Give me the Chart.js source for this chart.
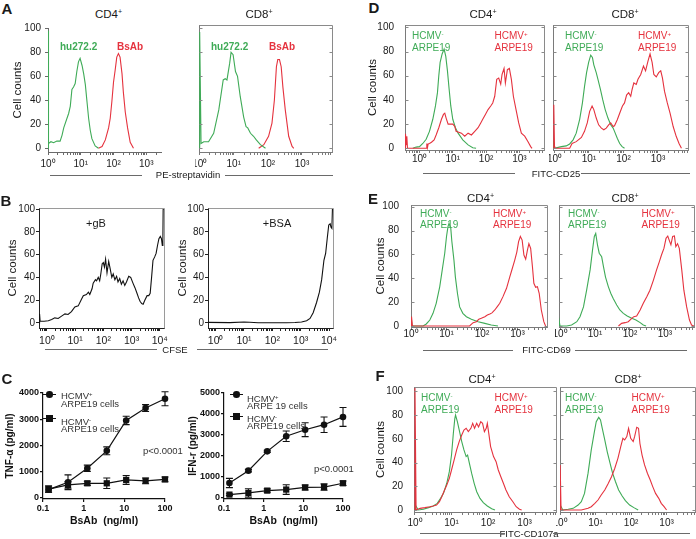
<!DOCTYPE html>
<html><head><meta charset="utf-8">
<script src="https://cdn.jsdelivr.net/npm/chart.js@4.4.1/dist/chart.umd.min.js"></script>
<style>
html,body{margin:0;padding:0;background:#fff}
body{position:relative;width:696px;height:539px;overflow:hidden;font-family:"Liberation Sans",Arial,Helvetica,sans-serif;color:#1a1a1a}
canvas{position:absolute}
.tx{position:absolute;white-space:nowrap;line-height:1}
sup{font-size:0.62em;line-height:0;vertical-align:0.55em}
.ln{position:absolute;height:0;border-top:1.3px solid #6a6a6a}
.mk{position:absolute;background:#111}
</style></head><body>
<script>
// ---------------- DATA (x = log10 fluorescence, y = cell counts) ----------------
const A_CD4_hu = [[0,0],[0,98],[0.03,4],[0.09,5.5],[0.17,4.7],[0.27,6],[0.37,6],[0.43,11],[0.48,17],[0.58,25],[0.63,29],[0.68,35],[0.73,49],[0.78,51],[0.83,54],[0.88,64],[0.93,72],[0.98,75],[1.04,69],[1.09,62],[1.14,53],[1.19,39],[1.24,25],[1.29,15],[1.34,8],[1.44,2],[1.54,0]];
const A_CD4_bs = [[1.54,0],[1.65,1.5],[1.75,7],[1.85,17],[1.9,25],[1.95,39],[2.0,55],[2.05,65],[2.1,76],[2.15,79],[2.2,76],[2.26,62],[2.3,47],[2.36,30],[2.43,17],[2.51,5],[2.61,0]];
const A_CD8_hu = [[0,0],[0,97],[0.04,4],[0.12,5.5],[0.26,5.5],[0.41,12.5],[0.56,32],[0.69,57],[0.75,58],[0.8,57],[0.88,71],[0.92,80],[0.98,78],[1.05,64],[1.11,60],[1.19,43],[1.29,26],[1.36,18],[1.41,17],[1.49,12.5],[1.58,10],[1.66,7],[1.78,3],[1.93,0]];
const A_CD8_bs = [[1.73,0],[1.88,3],[2.02,10],[2.12,21],[2.19,40],[2.25,68],[2.29,74],[2.34,74],[2.39,68],[2.44,51],[2.51,32],[2.61,10],[2.71,1.5],[2.76,0]];

const B_gB = [[-0.27,0],[-0.26,8],[-0.24,1.5],[-0.1,1.5],[0.05,2],[0.17,3],[0.28,4.5],[0.4,4],[0.52,6],[0.64,8],[0.75,7.5],[0.87,10],[0.99,14],[1.11,15],[1.23,21],[1.29,24],[1.4,25],[1.47,27],[1.52,25],[1.6,30],[1.64,35],[1.72,38],[1.76,37],[1.82,40],[1.87,37],[1.91,43],[1.96,52],[2.0,53],[2.04,49],[2.08,56],[2.13,44],[2.19,54],[2.24,48],[2.3,40],[2.35,43],[2.41,38],[2.47,41],[2.52,36],[2.58,39],[2.64,34],[2.7,37],[2.76,33],[2.82,36],[2.9,41],[2.97,40],[3.05,35],[3.12,31],[3.18,27],[3.25,22],[3.3,19],[3.36,17],[3.41,16.5],[3.47,20],[3.55,24],[3.61,24],[3.66,26],[3.71,40],[3.76,55],[3.82,58],[3.87,61],[3.92,68],[3.97,74],[4.02,76],[4.06,74],[4.09,68],[4.11,72],[4.12,100],[4.15,100]];
const B_BSA = [[-0.27,0.5],[0.5,0.3],[1.0,0.8],[1.2,0.6],[1.5,0.2],[2.0,0.2],[2.5,0.2],[2.8,0.4],[3.03,0.8],[3.21,2],[3.33,4],[3.44,9],[3.56,18],[3.66,27],[3.74,38],[3.82,55],[3.88,61],[3.94,75],[3.99,86],[4.04,87],[4.07,84],[4.1,83],[4.12,100],[4.14,100]];

const doses = [0.137, 0.412, 1.23, 3.7, 11.1, 33.3, 100];
const tnfPos = [310, 590, 1125, 1790, 2950, 3425, 3780];
const tnfPosErr = [100, 280, 120, 150, 160, 130, 270];
const tnfNeg = [330, 490, 550, 550, 680, 645, 700];
const tnfNegErr = [120, 130, 80, 200, 170, 110, 90];
const ifnPos = [714, 1300, 2220, 2940, 3250, 3490, 3860];
const ifnPosErr = [220, 60, 50, 250, 330, 370, 450];
const ifnNeg = [160, 240, 350, 400, 500, 520, 700];
const ifnNegErr = [40, 200, 80, 230, 120, 150, 110];

const D_CD4_neg = [[-0.2,0],[-0.1,1],[0,1.4],[0.1,4],[0.2,7.5],[0.3,14],[0.4,24],[0.48,35],[0.54,46],[0.58,60],[0.62,71],[0.68,78],[0.74,82],[0.79,76],[0.84,64],[0.89,49],[0.94,35],[1.0,24],[1.08,17],[1.16,12.5],[1.3,7],[1.46,2.8],[1.6,0.5],[1.7,0]];
const D_CD4_pos = [[-0.43,0],[-0.42,12],[-0.4,3],[-0.38,10],[-0.36,0],[0.2,0],[0.22,4],[0.24,0.5],[0.26,3.6],[0.3,4],[0.36,5],[0.44,7],[0.5,11],[0.58,17],[0.66,24],[0.72,28],[0.76,29],[0.8,25],[0.86,20],[1.0,20],[1.06,18],[1.1,14],[1.26,12.5],[1.36,10],[1.46,12.5],[1.56,11],[1.66,14],[1.76,17],[1.84,21],[1.9,24],[1.98,28],[2.06,32],[2.14,35],[2.2,37.5],[2.26,43],[2.32,57],[2.38,58],[2.44,53],[2.48,61],[2.54,66],[2.58,54],[2.64,65],[2.7,66],[2.76,57],[2.82,43],[2.9,32],[2.98,21],[3.06,12.5],[3.16,10],[3.26,5.5],[3.34,1.4],[3.38,0]];
const D_CD8_neg = [[-0.04,0],[-0.03,6],[-0.01,0],[0.2,1.4],[0.34,2],[0.44,3.6],[0.54,7],[0.63,12.5],[0.73,24],[0.81,37.5],[0.87,51],[0.93,62.5],[0.99,71],[1.05,77],[1.1,75],[1.14,69],[1.21,62.5],[1.26,57],[1.33,49],[1.4,40],[1.47,32],[1.55,25],[1.63,19.4],[1.7,16.7],[1.74,14],[1.82,8.3],[1.89,4],[1.96,1.4],[2.03,0]];
const D_CD8_pos = [[-0.04,0],[-0.02,36],[0.0,2],[0.02,0],[0.44,0],[0.51,4],[0.63,5.5],[0.78,9],[0.87,14],[0.95,21],[1.02,30.5],[1.09,35],[1.14,32],[1.21,25],[1.28,19.4],[1.36,16.7],[1.43,15.3],[1.5,16.7],[1.57,19.4],[1.63,21],[1.7,18],[1.74,18.6],[1.82,23.6],[1.89,29],[1.97,35],[2.03,37.5],[2.09,44],[2.15,46],[2.21,43],[2.25,48.6],[2.3,54],[2.37,52.8],[2.42,57],[2.5,61],[2.58,68],[2.64,64],[2.71,72],[2.77,78],[2.83,71],[2.88,61],[2.95,59],[3.02,62.5],[3.08,64],[3.13,58],[3.19,47],[3.27,37.5],[3.35,29],[3.44,18],[3.53,9.7],[3.61,4],[3.68,0]];

const E_CD4_neg = [[0,0],[0.005,8],[0.03,0],[0.34,0],[0.43,1.7],[0.53,5],[0.62,10.6],[0.71,19],[0.81,33],[0.88,47],[0.95,61],[1.0,75],[1.04,83],[1.07,86],[1.12,82],[1.15,71],[1.21,55],[1.25,41],[1.31,27],[1.37,16],[1.46,10.6],[1.56,7.8],[1.7,5.6],[1.89,3.6],[2.08,2.2],[2.26,0.8],[2.45,0]];
const E_CD4_pos = [[0.01,0],[0.015,8],[0.04,0],[1.65,0],[1.75,2.8],[1.84,3.6],[1.91,5.6],[1.98,6.4],[2.08,7.8],[2.15,9.2],[2.22,10],[2.28,11],[2.36,13.4],[2.43,16.2],[2.5,19],[2.59,24.6],[2.69,31.6],[2.78,41],[2.85,48],[2.92,55],[2.98,62],[3.03,70.7],[3.08,75],[3.13,72],[3.18,59.5],[3.23,56],[3.28,63.7],[3.32,69],[3.37,65],[3.42,49.7],[3.46,35.8],[3.51,32.4],[3.56,33],[3.61,27.4],[3.67,13.4],[3.74,3.6],[3.79,0]];
const E_CD8_neg = [[-0.04,0],[-0.03,5],[0,0],[0.19,0],[0.33,0.8],[0.48,3.6],[0.57,7.8],[0.67,16],[0.76,30],[0.86,47],[0.93,64],[0.98,75],[1.02,77.6],[1.07,68],[1.12,61],[1.19,58],[1.24,50],[1.3,41],[1.38,33],[1.45,27.4],[1.52,23],[1.62,17.6],[1.71,13.4],[1.81,10.6],[1.92,8.4],[2.05,6.4],[2.17,5],[2.29,2.8],[2.38,0.8],[2.46,0]];
const E_CD8_pos = [[1.67,0],[1.76,2.2],[1.86,2.8],[1.95,3.6],[2.05,6.4],[2.11,7.8],[2.19,8.4],[2.29,13.4],[2.38,19],[2.48,24.6],[2.57,30],[2.67,38.5],[2.76,47],[2.84,54],[2.9,59.5],[2.97,65],[3.03,73.5],[3.08,75.4],[3.12,72],[3.17,68],[3.22,75],[3.27,75.4],[3.31,66.5],[3.36,69],[3.41,65],[3.48,47],[3.54,30],[3.62,16],[3.7,5],[3.76,0.8],[3.83,0]];

const F_CD4_pos = [[0,0],[0,103],[0.03,0],[0.14,1.4],[0.27,2],[0.41,2.8],[0.5,3.4],[0.59,4.2],[0.67,7],[0.73,11],[0.79,15.4],[0.87,21],[0.94,26.7],[1.0,33.7],[1.07,42],[1.14,50.6],[1.21,57.6],[1.28,63.2],[1.34,67.4],[1.4,68.8],[1.46,66],[1.53,68.8],[1.58,73],[1.63,68.8],[1.69,73],[1.74,70],[1.8,74.4],[1.85,73],[1.9,66],[1.95,68.8],[1.98,73],[2.02,64.6],[2.07,53.4],[2.15,45],[2.22,40.7],[2.28,33.7],[2.35,28],[2.42,22.5],[2.49,16.9],[2.58,11.2],[2.68,7],[2.77,2.8],[2.86,0.6],[2.92,0]];
const F_CD4_neg = [[0,0],[0.01,4.2],[0.09,0],[0.23,0.6],[0.37,2],[0.5,3.4],[0.61,5.6],[0.7,9.8],[0.78,14],[0.87,22.5],[0.94,32.3],[1.0,46.3],[1.05,64.6],[1.09,77],[1.11,80],[1.16,74.4],[1.21,67.4],[1.28,57.6],[1.34,50.6],[1.4,45],[1.44,46.3],[1.49,39.3],[1.55,31],[1.62,22.5],[1.69,15.4],[1.78,9.8],[1.87,6.2],[1.98,3.4],[2.1,1.1],[2.19,0]];
const F_CD8_pos = [[0,0],[0.005,38],[0.03,0],[0.6,0],[0.79,1.4],[0.88,2.8],[0.98,5.6],[1.07,8.4],[1.16,12.6],[1.26,16.9],[1.35,22],[1.45,28],[1.54,35],[1.63,43.5],[1.71,53.4],[1.77,60.4],[1.82,59],[1.88,61.8],[1.93,68.8],[1.99,60.4],[2.06,57.6],[2.1,61.8],[2.16,69.7],[2.21,68.8],[2.25,56],[2.31,46.3],[2.38,38],[2.46,31],[2.54,25.3],[2.61,19.7],[2.69,14],[2.78,9.8],[2.85,5.6],[2.93,2.8],[3.0,0]];
const F_CD8_neg = [[0,0],[0.01,4],[0.08,0],[0.23,0.6],[0.37,1.4],[0.51,4.2],[0.6,7],[0.69,14],[0.79,31],[0.88,50.6],[0.96,64.6],[1.02,74.4],[1.09,78],[1.14,75.8],[1.19,68.8],[1.26,59],[1.33,49],[1.41,39.3],[1.48,31],[1.56,24],[1.65,16.9],[1.75,11.8],[1.84,7.9],[1.96,4.2],[2.08,2],[2.2,0]];

const countTicks = [0, 20, 40, 60, 80, 100];
const countTicksB = [0, 10, 20, 30, 40, 50, 60, 70, 80, 90, 100];
const SUP = ['\u2070', '\u00b9', '\u00b2', '\u00b3', '\u2074'];

// ---------------- helpers ----------------
const FONT = '"Liberation Sans", Arial, Helvetica, sans-serif';
Chart.defaults.font.family = FONT;
Chart.defaults.color = '#1a1a1a';
const GREEN = '#3fab57', RED = '#e5323e';

function P(arr) { return arr.map(p => ({x: p[0], y: p[1]})); }
function logTicks(min, max) {
  const t = [];
  for (let n = Math.floor(min); n <= Math.ceil(max); n++) {
    for (let k = 1; k <= 9; k++) {
      const v = k === 1 ? n : n + Math.log10(k);
      if (v >= min - 1e-9 && v <= max + 1e-9) t.push(v);
    }
  }
  return t;
}
function makeCanvas(l, t, w, h) {
  const c = document.createElement('canvas');
  c.width = w; c.height = h;
  c.style.left = l + 'px'; c.style.top = t + 'px';
  c.style.width = w + 'px'; c.style.height = h + 'px';
  document.body.appendChild(c);
  return c;
}
function T(html, x, y, css, al) {
  const d = document.createElement('div');
  d.className = 'tx'; d.innerHTML = html;
  d.style.cssText += css || '';
  d.style.left = x + 'px'; d.style.top = y + 'px';
  d.style.transform = al === 'l' ? 'translate(0,-50%)' : 'translate(-50%,-50%)';
  document.body.appendChild(d);
}
function L(x1, x2, y) {
  const d = document.createElement('div');
  d.className = 'ln';
  d.style.left = x1 + 'px'; d.style.top = y + 'px'; d.style.width = (x2 - x1) + 'px';
  document.body.appendChild(d);
}

const framePlugin = {
  id: 'frame',
  afterDraw(chart, args, o) {
    if (!o || !o.mode) return;
    const {ctx, chartArea: a, scales} = chart;
    const L0 = Math.round(a.left) + 0.5, R0 = Math.round(a.right) + 0.5;
    const T0 = Math.round(a.top) + 0.5, B0 = Math.round(a.bottom) + 0.5;
    ctx.save();
    ctx.strokeStyle = o.color || '#8a8a8a';
    ctx.lineWidth = 1;
    ctx.beginPath();
    ctx.moveTo(L0, T0); ctx.lineTo(R0, T0); ctx.lineTo(R0, B0);
    ctx.stroke();
    if (o.inTicks) {
      ctx.beginPath();
      o.inTicks.forEach(v => {
        const y = Math.round(scales.y.getPixelForValue(v)) + 0.5;
        ctx.moveTo(L0, y); ctx.lineTo(L0 + 3, y);
        ctx.moveTo(R0, y); ctx.lineTo(R0 - 3, y);
      });
      ctx.stroke();
    }
    ctx.restore();
  }
};
const errPlugin = {
  id: 'errbars',
  beforeDatasetsDraw(chart) {
    const {ctx, scales: {x, y}} = chart;
    ctx.save();
    ctx.strokeStyle = '#111'; ctx.lineWidth = 1.1;
    chart.data.datasets.forEach(ds => {
      if (!ds.err) return;
      ds.data.forEach((p, j) => {
        const px = x.getPixelForValue(p.x);
        const y1 = y.getPixelForValue(p.y - ds.err[j]);
        const y2 = y.getPixelForValue(p.y + ds.err[j]);
        ctx.beginPath();
        ctx.moveTo(px, y1); ctx.lineTo(px, y2);
        ctx.moveTo(px - 3.5, y1); ctx.lineTo(px + 3.5, y1);
        ctx.moveTo(px - 3.5, y2); ctx.lineTo(px + 3.5, y2);
        ctx.stroke();
      });
    });
    ctx.restore();
  }
};
Chart.register(framePlugin, errPlugin);

function hist(o) {
  const lh = 11 * 1.2;
  const cl = o.titleX != null ? Math.round(o.titleX - lh / 2) : o.l - 4;
  const W = o.l - cl, ct = o.t - 6, HX = 24;
  const cw = o.r + 6 - cl, chh = o.b + HX - ct;
  const cv = makeCanvas(cl, ct, cw, chh);
  const xt = logTicks(o.xmin, o.xmax);
  const axisCol = o.axisCol || '#7a7a7a';
  new Chart(cv, {
    type: 'line',
    data: {datasets: o.series.map(s => ({data: P(s[0]), borderColor: s[1], borderWidth: 1.1, pointRadius: 0, tension: 0, fill: false}))},
    options: {
      responsive: false, animation: false, devicePixelRatio: 1,
      layout: {padding: {left: 0, top: 6, right: 6, bottom: 0}},
      plugins: {legend: {display: false}, tooltip: {enabled: false},
        frame: {mode: o.mode, color: o.frameCol || '#8a8a8a', inTicks: o.inTicks}},
      scales: {
        x: {type: 'linear', min: o.xmin, max: o.xmax,
          afterBuildTicks: s => { s.ticks = xt.map(v => ({value: v})); },
          afterFit: s => { s.height = HX; s.paddingLeft = 0; s.paddingRight = 0; },
          ticks: {autoSkip: false, maxRotation: 0, minRotation: 0, padding: o.xPad, font: {size: o.xFont || 10}, color: '#1a1a1a',
            callback: v => Number.isInteger(v) ? '10' + SUP[v] : ''},
          grid: {drawOnChartArea: false, drawTicks: true, tickLength: 3, color: o.xAxisCol || axisCol},
          border: {display: true, color: o.xAxisCol || axisCol, width: 1}
        },
        y: {type: 'linear', min: o.ymin, max: o.ymax,
          afterBuildTicks: s => { s.ticks = (o.yt || countTicks).map(v => ({value: v})); },
          afterFit: s => { s.width = W; s.paddingTop = 0; s.paddingBottom = 0; },
          ticks: {display: !!o.yLab, padding: o.yPad || 0, font: {size: 10}, color: '#1a1a1a',
            callback: v => (v % 20 === 0 ? String(v) : '')},
          grid: {display: !!o.yTickOut, drawOnChartArea: false, drawTicks: true, tickLength: 3, color: o.yAxisCol || axisCol},
          border: {display: true, color: o.yAxisCol || axisCol, width: 1},
          title: {display: o.titleX != null, text: 'Cell counts', font: {size: 11.5}, padding: 0, color: '#1a1a1a'}
        }
      }
    }
  });
}

function dose(o) {
  const lh = 10 * 1.2;
  const cl = Math.round(o.titleX - lh / 2), W = o.l - cl, ct = o.t - 8, HX = 28;
  const cw = o.r + 8 - cl, chh = o.b + HX - ct;
  const cv = makeCanvas(cl, ct, cw, chh);
  const common = {borderColor: '#111', backgroundColor: '#111', borderWidth: 1.2, tension: 0, clip: false, pointBorderWidth: 0};
  new Chart(cv, {
    type: 'line',
    data: {datasets: [
      Object.assign({label: 'HCMV+ ARPE19 cells', data: doses.map((d, i) => ({x: d, y: o.pos[i]})), err: o.posErr, pointStyle: 'circle', pointRadius: 3.3}, common),
      Object.assign({label: 'HCMV- ARPE19 cells', data: doses.map((d, i) => ({x: d, y: o.neg[i]})), err: o.negErr, pointStyle: 'rect', pointRadius: 4.4}, common)
    ]},
    options: {
      responsive: false, animation: false, devicePixelRatio: 1,
      layout: {padding: {left: 0, top: 8, right: 8, bottom: 0}},
      plugins: {legend: {display: false}, tooltip: {enabled: false}},
      scales: {
        x: {type: 'logarithmic', min: 0.1, max: 100,
          afterBuildTicks: s => { s.ticks = [0.1, 1, 10, 100].map(v => ({value: v})); },
          afterFit: s => { s.height = HX; s.paddingLeft = 0; s.paddingRight = 0; },
          ticks: {autoSkip: false, maxRotation: 0, padding: 1, font: {size: 9, weight: 'bold'}, color: '#111', callback: v => String(v)},
          grid: {drawOnChartArea: false, drawTicks: true, tickLength: 3, color: '#111', lineWidth: 1.2},
          border: {display: true, color: '#111', width: 1.2},
          title: {display: true, text: 'BsAb  (ng/ml)', font: {size: 10.5, weight: 'bold'}, padding: 0, color: '#111'}
        },
        y: {type: 'linear', min: -50, max: o.ymax,
          afterBuildTicks: s => { s.ticks = o.yt.map(v => ({value: v})); },
          afterFit: s => { s.width = W; s.paddingTop = 0; s.paddingBottom = 0; },
          ticks: {padding: 1, font: {size: 9, weight: 'bold'}, color: '#111', callback: v => String(v)},
          grid: {drawOnChartArea: false, drawTicks: true, tickLength: 3, color: '#111', lineWidth: 1.2},
          border: {display: true, color: '#111', width: 1.2},
          title: {display: true, text: o.ytitle, font: {size: 10, weight: 'bold'}, padding: 0, color: '#111'}
        }
      }
    }
  });
}

// ---------------- PANEL A ----------------
hist({l: 48, t: 28, r: 161, b: 152, xmin: 0, xmax: 3.45, ymin: -3.1, ymax: 100.25, titleX: 18, yLab: true, yTickOut: true, yPad: 4, xPad: 3,
  axisCol: '#6a6a6a', series: [[A_CD4_hu, GREEN], [A_CD4_bs, RED]]});
hist({l: 199, t: 25, r: 332, b: 152, xmin: -0.02, xmax: 3.88, ymin: -3.1, ymax: 102.8, xPad: 3, mode: 'box', inTicks: countTicks,
  series: [[A_CD8_hu, GREEN], [A_CD8_bs, RED]]});
// ---------------- PANEL B ----------------
hist({l: 39, t: 208, r: 164, b: 328, xmin: -0.28, xmax: 4.15, ymin: -4.4, ymax: 100.9, titleX: 13, yLab: true, yTickOut: true, yPad: 1, xPad: 4, xFont: 10.5,
  yt: countTicksB, axisCol: '#222', mode: 'tr', frameCol: '#9a9a9a', series: [[B_gB, '#111']]});
hist({l: 208, t: 208, r: 333, b: 328, xmin: -0.27, xmax: 4.14, ymin: -4.4, ymax: 100.9, titleX: 183, yLab: true, yTickOut: true, yPad: 1, xPad: 4, xFont: 10.5,
  yt: countTicksB, axisCol: '#222', mode: 'tr', frameCol: '#9a9a9a', series: [[B_BSA, '#111']]});
// ---------------- PANEL C ----------------
dose({l: 43, t: 393, r: 165, b: 499, titleX: 9.5, ymax: 4000, yt: [0, 1000, 2000, 3000, 4000], ytitle: 'TNF-\u03b1 (pg/ml)',
  pos: tnfPos, posErr: tnfPosErr, neg: tnfNeg, negErr: tnfNegErr});
dose({l: 224, t: 393, r: 343, b: 499, titleX: 193, ymax: 5000, yt: [0, 1000, 2000, 3000, 4000, 5000], ytitle: 'IFN-r (pg/ml)',
  pos: ifnPos, posErr: ifnPosErr, neg: ifnNeg, negErr: ifnNegErr});
// ---------------- PANEL D ----------------
hist({l: 405, t: 25, r: 544, b: 150, xmin: -0.435, xmax: 3.74, ymin: -1.4, ymax: 101.9, titleX: 373, yLab: true, yPad: 8, xPad: 0, mode: 'box', inTicks: countTicks,
  series: [[D_CD4_pos, RED], [D_CD4_neg, GREEN]]});
hist({l: 553, t: 25, r: 688, b: 150, xmin: -0.043, xmax: 3.87, ymin: -1.4, ymax: 101.9, xPad: 0, mode: 'box', inTicks: countTicks,
  series: [[D_CD8_pos, RED], [D_CD8_neg, GREEN]]});
// ---------------- PANEL E ----------------
hist({l: 411, t: 205, r: 547, b: 327, xmin: 0, xmax: 3.83, ymin: -0.84, ymax: 101.4, titleX: 381, yLab: true, yPad: 9, xPad: -1.5, mode: 'box', inTicks: countTicks,
  series: [[E_CD4_pos, RED], [E_CD4_neg, GREEN]]});
hist({l: 559, t: 205, r: 694, b: 327, xmin: -0.03, xmax: 3.83, ymin: -0.84, ymax: 101.4, xPad: -1.5, mode: 'box', inTicks: countTicks,
  series: [[E_CD8_pos, RED], [E_CD8_neg, GREEN]]});
// ---------------- PANEL F ----------------
hist({l: 414, t: 387, r: 556, b: 512, xmin: -0.027, xmax: 3.86, ymin: -1.68, ymax: 103.6, titleX: 381, yLab: true, yPad: 8, xPad: 2, mode: 'box', inTicks: countTicks,
  series: [[F_CD4_pos, RED], [F_CD4_neg, GREEN]]});
hist({l: 560, t: 387, r: 695, b: 512, xmin: 0, xmax: 3.8, ymin: -1.68, ymax: 103.6, xPad: 2, mode: 'box', inTicks: countTicks,
  series: [[F_CD8_pos, RED], [F_CD8_neg, GREEN]]});

// ---------------- TEXT ----------------
const LET = 'font-weight:bold;font-size:15px;';
T('A', 7, 8, LET); T('B', 6, 200, LET); T('C', 7, 378, LET);
T('D', 374, 7, LET); T('E', 373, 198, LET); T('F', 380, 375, LET);

const TTL = 'font-size:11.5px;';
T('CD4<sup>+</sup>', 108.5, 15, TTL); T('CD8<sup>+</sup>', 259, 15, TTL);
T('CD4<sup>+</sup>', 483, 15, TTL); T('CD8<sup>+</sup>', 625, 15, TTL);
T('CD4<sup>+</sup>', 480.5, 198.5, TTL); T('CD8<sup>+</sup>', 625, 198.5, TTL);
T('CD4<sup>+</sup>', 482, 379.5, TTL); T('CD8<sup>+</sup>', 628, 379.5, TTL);

const GB = 'font-weight:bold;font-size:10px;color:' + GREEN + ';', RB = 'font-weight:bold;font-size:10px;color:' + RED + ';';
T('hu272.2', 60, 47, GB, 'l'); T('BsAb', 117, 47, RB, 'l');
T('hu272.2', 211, 47, GB, 'l'); T('BsAb', 269, 47, RB, 'l');

const GN = 'font-size:10px;color:' + GREEN + ';', RN = 'font-size:10px;color:' + RED + ';';
function pair(xg, xr, y1, y2) {
  T('HCMV<sup>-</sup>', xg, y1, GN, 'l'); T('ARPE19', xg, y2, GN, 'l');
  T('HCMV<sup>+</sup>', xr, y1, RN, 'l'); T('ARPE19', xr, y2, RN, 'l');
}
pair(412, 494.5, 35.5, 48); pair(565, 638, 35.5, 48);
pair(420, 493, 213.5, 224.5); pair(568, 641.5, 213.5, 224.5);
pair(421, 494.5, 398, 410); pair(565, 631.5, 398, 410);

const AX = 'font-size:9.5px;';
T('PE-streptavidin', 188, 174.5, AX); L(50, 142, 174.5); L(225, 333, 174.5);
T('CFSE', 175, 349.5, AX); L(45, 157, 349); L(197, 328, 349);
T('FITC-CD25', 556, 173.5, AX); L(423, 515, 173); L(581, 690, 173);
T('FITC-CD69', 546.5, 350, AX); L(423, 513, 349.5); L(575, 687, 349.5);
T('FITC-CD107a', 529, 533.5, AX); L(420, 505, 533); L(553, 690, 533);

T('+gB', 96, 222.5, 'font-size:11px;'); T('+BSA', 277, 223, 'font-size:11px;');

// panel C legends
const LG = 'font-size:9.5px;color:#333;';
function legend(x0, yc, ys, tx, t1, t2, t3, t4) {
  [[yc, 'c'], [ys, 's']].forEach(([y, k]) => {
    const ln = document.createElement('div'); ln.className = 'mk';
    ln.style.cssText += `left:${x0}px;top:${y - 0.6}px;width:13px;height:1.2px;`;
    document.body.appendChild(ln);
    const m = document.createElement('div'); m.className = 'mk';
    m.style.cssText += k === 'c' ? `left:${x0 + 3}px;top:${y - 3.3}px;width:6.6px;height:6.6px;border-radius:50%;`
                                 : `left:${x0 + 3}px;top:${y - 3.3}px;width:6.6px;height:6.6px;`;
    document.body.appendChild(m);
  });
  T(t1[0], tx, t1[1], LG, 'l'); T(t2[0], tx, t2[1], LG, 'l');
  T(t3[0], tx, t3[1], LG, 'l'); T(t4[0], tx, t4[1], LG, 'l');
}
legend(43, 394.3, 418.3, 61, ['HCMV<sup>+</sup>', 395.7], ['ARPE19 cells', 404.3], ['HCMV<sup>-</sup>', 421.7], ['ARPE19 cells', 429]);
legend(230, 394.3, 416.3, 247, ['HCMV<sup>+</sup>', 399], ['ARPE 19 cells', 406], ['HCMV<sup>-</sup>', 419], ['ARPE19 cells', 426]);
T('p&lt;0.0001', 143, 451, 'font-size:9.5px;color:#333;', 'l');
T('p&lt;0.0001', 314, 468.7, 'font-size:9.5px;color:#333;', 'l');
</script>
</body></html>
